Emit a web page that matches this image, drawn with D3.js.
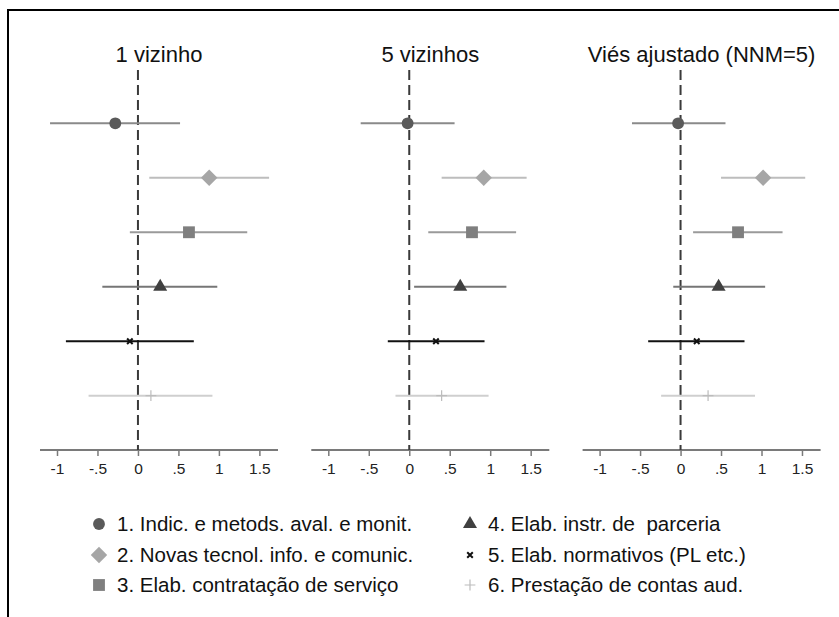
<!DOCTYPE html>
<html lang="pt">
<head>
<meta charset="utf-8">
<style>
  body { margin: 0; background: #fff; }
  svg { display: block; font-family: "Liberation Sans", Arial, sans-serif; }
</style>
</head>
<body>
<div id="chart"></div>
<script src="https://d3js.org/d3.v7.min.js"></script>
<script>
var width = 839, height = 617;

// categorias (linhas) e painéis
var categorias = [
  "1. Indic. e metods. aval. e monit.",
  "2. Novas tecnol. info. e comunic.",
  "3. Elab. contratação de serviço",
  "4. Elab. instr. de  parceria",
  "5. Elab. normativos (PL etc.)",
  "6. Prestação de contas aud."
];
var paineis = ["1 vizinho", "5 vizinhos", "Viés ajustado (NNM=5)"];

// estimativas pontuais por painel
var est1 = [-0.28, 0.88, 0.63, 0.275, -0.10, 0.16];
var est2 = [-0.02, 0.92, 0.775, 0.63, 0.33, 0.40];
var est3 = [-0.03, 1.02, 0.71, 0.47, 0.20, 0.34];
// intervalos de confiança
var lo1 = [-1.086, 0.14, -0.10, -0.44, -0.89, -0.61];
var hi1 = [0.52, 1.62, 1.35, 0.98, 0.69, 0.92];
var lo2 = [-0.60, 0.40, 0.235, 0.06, -0.265, -0.17];
var hi2 = [0.56, 1.45, 1.32, 1.20, 0.93, 0.98];
var lo3 = [-0.60, 0.50, 0.155, -0.09, -0.40, -0.24];
var hi3 = [0.555, 1.54, 1.26, 1.045, 0.79, 0.92];

var tickVals = [-1, -0.5, 0, 0.5, 1, 1.5];
var tickLabels = ["-1", "-.5", "0", ".5", "1", "1.5"];

var estimativas = [est1, est2, est3];
var inferiores = [lo1, lo2, lo3];
var superiores = [hi1, hi2, hi3];

// estilo de cada série
var corLinha = ["#8a8a8a", "#bdbdbd", "#9a9a9a", "#767676", "#111111", "#cfcfcf"];
var corMarca = ["#5a5a5a", "#a6a6a6", "#7f7f7f", "#404040", "#111111", "#bcbcbc"];
var simbolos = [
  { t: d3.symbolCircle, s: 110, rot: 0, stroke: false },
  { t: d3.symbolSquare, s: 135, rot: 45, stroke: false },
  { t: d3.symbolSquare, s: 140, rot: 0, stroke: false },
  { t: d3.symbolTriangle, s: 85, rot: 0, stroke: false },
  { t: d3.symbolTimes, s: 22, rot: 0, stroke: true },
  { t: d3.symbolPlus, s: 40, rot: 0, stroke: true }
];
var traco = [0, 0, 0, 0, 2, 1.2];

var svg = d3.select("#chart").append("svg")
  .attr("width", width)
  .attr("height", height);

// moldura (imagem recortada)
svg.append("path")
  .attr("d", "M8," + height + "V10H" + width)
  .attr("fill", "none")
  .attr("stroke", "#000")
  .attr("stroke-width", 2);

var panelW = 238, panelStep = 271.3, panelX0 = 40;
var axisY = 450;

var y = d3.scalePoint().domain(categorias).range([123.3, 395.7]);

function drawMarker(sel, i, cx, cy) {
  var sy = simbolos[i];
  var p = sel.append("path")
    .attr("d", d3.symbol().type(sy.t).size(sy.s)())
    .attr("transform", "translate(" + cx + "," + cy + ") rotate(" + sy.rot + ")");
  if (sy.stroke) {
    p.attr("fill", "none").attr("stroke", corMarca[i]).attr("stroke-width", traco[i]);
  } else {
    p.attr("fill", corMarca[i]);
  }
}

paineis.forEach(function(titulo, p) {
  var x0 = panelX0 + p * panelStep;
  var x = d3.scaleLinear().domain([-1.21, 1.73]).range([x0, x0 + panelW]);
  var g = svg.append("g");

  g.append("text")
    .attr("x", x0 + panelW / 2)
    .attr("y", 62)
    .attr("text-anchor", "middle")
    .attr("font-size", 22)
    .attr("fill", "#111")
    .text(titulo);

  // eixo x
  var axis = d3.axisBottom(x).tickValues(tickVals)
    .tickFormat(function(d, i) { return tickLabels[i]; })
    .tickSize(6).tickPadding(7);
  var ag = g.append("g").attr("transform", "translate(0," + axisY + ")").call(axis);
  ag.attr("font-size", 15.5).attr("font-family", "Liberation Sans, Arial, sans-serif");
  ag.select(".domain").attr("stroke", "#7a7a7a").attr("stroke-width", 2)
    .attr("d", "M" + x0 + ",0H" + (x0 + panelW));
  ag.selectAll(".tick line").attr("stroke", "#7a7a7a").attr("stroke-width", 1.5);
  ag.selectAll(".tick text").attr("fill", "#222");

  // linha de referência em zero
  g.append("line")
    .attr("x1", x(0)).attr("x2", x(0))
    .attr("y1", 70).attr("y2", axisY)
    .attr("stroke", "#3a3a3a")
    .attr("stroke-width", 2)
    .attr("stroke-dasharray", "10,5");

  categorias.forEach(function(c, i) {
    g.append("line")
      .attr("x1", x(inferiores[p][i])).attr("x2", x(superiores[p][i]))
      .attr("y1", y(c)).attr("y2", y(c))
      .attr("stroke", corLinha[i])
      .attr("stroke-width", 2);
    drawMarker(g, i, x(estimativas[p][i]), y(c));
  });
});

// legenda
var legX = [99, 470], legY = [524, 555, 585];
var leg = svg.append("g");
categorias.forEach(function(c, i) {
  var col = Math.floor(i / 3), row = i % 3;
  drawMarker(leg, i, legX[col], legY[row]);
  leg.append("text")
    .attr("x", legX[col] + 18)
    .attr("y", legY[row])
    .attr("dy", "0.36em")
    .attr("font-size", 20.5)
    .attr("fill", "#111")
    .style("white-space", "pre")
    .text(c);
});
</script>
</body>
</html>
